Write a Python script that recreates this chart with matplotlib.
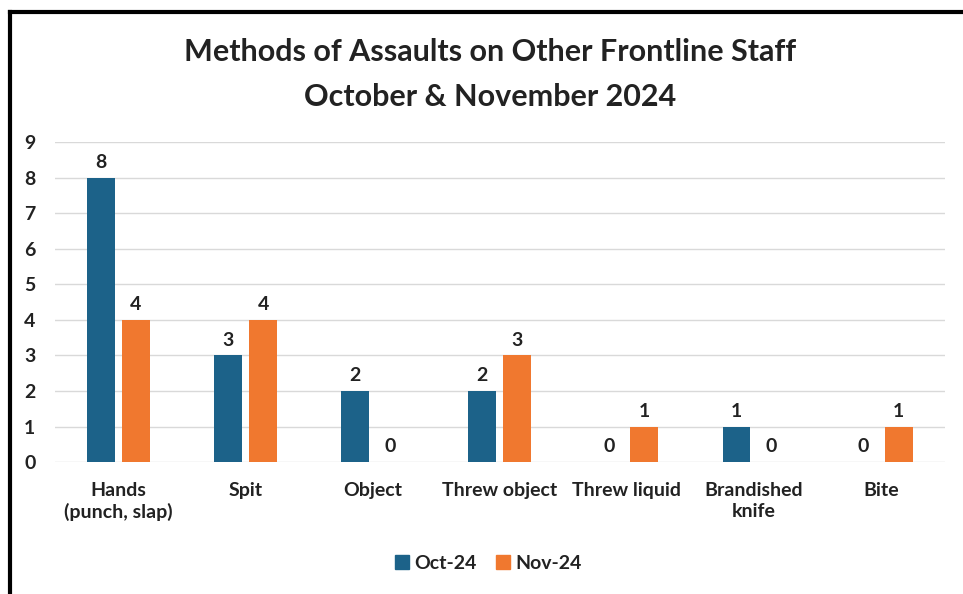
import matplotlib
matplotlib.use("Agg")
import matplotlib.pyplot as plt
import numpy as np
from matplotlib.lines import Line2D

categories = ["Hands\n(punch, slap)", "Spit", "Object", "Threw object", "Threw liquid", "Brandished\nknife", "Bite"]
oct24 = [8, 3, 2, 2, 0, 1, 0]
nov24 = [4, 4, 0, 3, 1, 0, 1]
series_names = ["Oct-24", "Nov-24"]
yticks = list(range(0, 10))

BLUE = "#1C6289"
ORANGE = "#F0782F"
TXT = "#222222"
plt.rcParams['font.family'] = ['Lato', 'DejaVu Sans']

fig = plt.figure(figsize=(9.63, 5.94), dpi=100)
ax = fig.add_axes([0.057, 0.222, 0.924, 0.539])

x = np.arange(len(categories))
w = 0.22
off = 0.138
b1 = ax.bar(x - off, oct24, w, color=BLUE, zorder=3)
b2 = ax.bar(x + off, nov24, w, color=ORANGE, zorder=3)
for bars, vals in ((b1, oct24), (b2, nov24)):
    for r, v in zip(bars, vals):
        ax.text(r.get_x() + r.get_width() / 2, v + 0.43, str(v), ha="center", va="center",
                fontsize=14, fontweight="bold", color=TXT)

ax.set_xlim(-0.5, len(categories) - 0.5)
ax.set_ylim(0, 9)
ax.set_yticks(yticks)
ax.set_yticklabels([str(t) for t in yticks], fontsize=14, fontweight="bold", color=TXT)
ax.set_xticks(x)
ax.set_xticklabels(categories, fontsize=14, fontweight="bold", color=TXT, linespacing=1.3)
ax.tick_params(axis="both", length=0)
ax.tick_params(axis="x", pad=14)
ax.tick_params(axis="y", pad=14)
ax.grid(axis="y", color="#D9D9D9", linewidth=1, zorder=0)
for s in ax.spines.values():
    s.set_visible(False)

fig.text(0.509, 0.913, "Methods of Assaults on Other Frontline Staff", ha="center", va="center",
         fontsize=22, fontweight="bold", color=TXT)
fig.text(0.509, 0.837, "October & November 2024", ha="center", va="center",
         fontsize=22, fontweight="bold", color=TXT)

handles = [Line2D([], [], marker="s", linestyle="none", markersize=10, color=BLUE),
           Line2D([], [], marker="s", linestyle="none", markersize=10, color=ORANGE)]
fig.legend(handles, series_names, loc="center", bbox_to_anchor=(0.507, 0.052), ncol=2, frameon=False,
           prop={"size": 14, "weight": "bold"}, handlelength=0.7, handletextpad=0.3,
           columnspacing=1.0, labelcolor=TXT)

# frame lines (top and left)
fig.add_artist(Line2D([0.0105, 1.0], [0.98, 0.98], color="black", linewidth=3, transform=fig.transFigure))
fig.add_artist(Line2D([0.0105, 0.0105], [0.0, 0.98], color="black", linewidth=3, transform=fig.transFigure))

fig.savefig("out.png", dpi=100)
